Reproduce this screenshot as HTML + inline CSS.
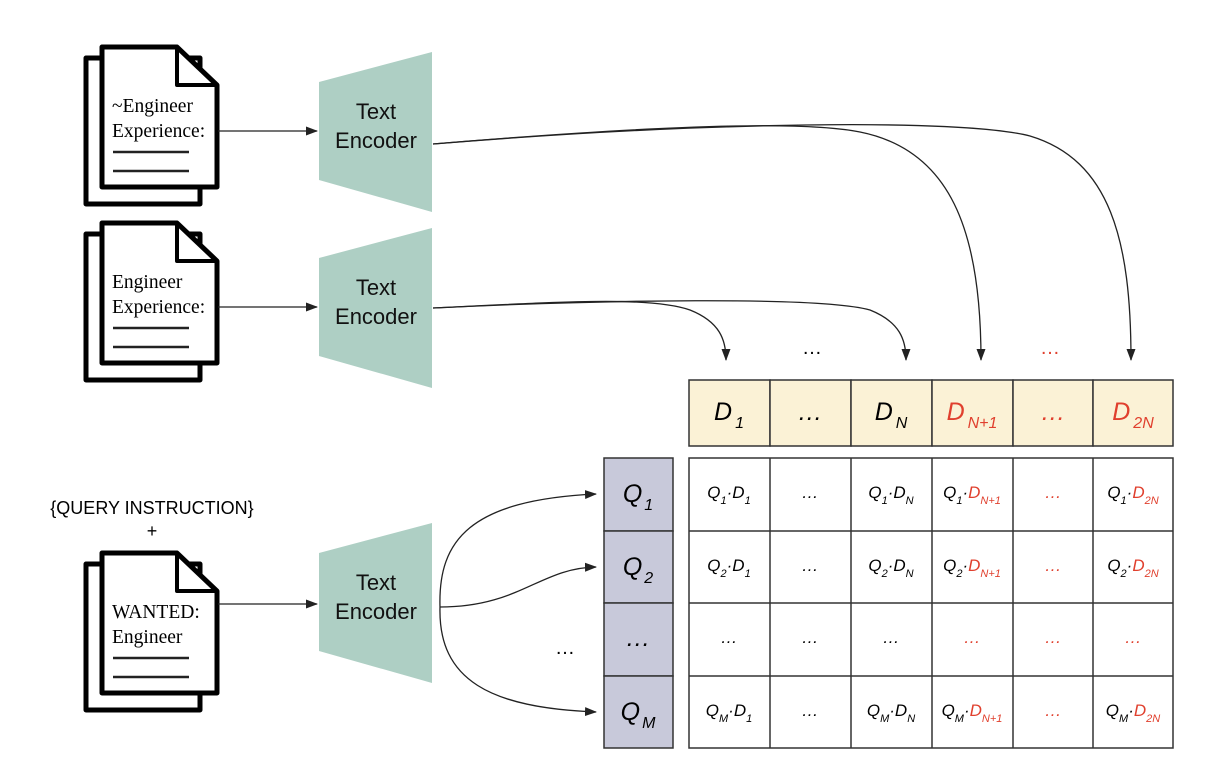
<!DOCTYPE html>
<html><head><meta charset="utf-8"><style>
html,body{margin:0;padding:0;background:#fff;}
svg{display:block;}
.doc{font-family:"Liberation Serif",serif;font-size:19.5px;fill:#000;}
.enc{font-family:"Liberation Sans",sans-serif;font-size:22px;fill:#111;text-anchor:middle;}
.sans{font-family:"Liberation Sans",sans-serif;}
.hd{font-family:"Liberation Sans",sans-serif;font-style:italic;font-size:25px;text-anchor:middle;}
.cl{font-family:"Liberation Sans",sans-serif;font-style:italic;font-size:17px;text-anchor:middle;}
.r{fill:#e0402e;}
</style></head><body>
<svg width="1210" height="780" viewBox="0 0 1210 780" xmlns="http://www.w3.org/2000/svg">
<defs>
<marker id="ah" markerWidth="12" markerHeight="10" refX="11" refY="5" orient="auto" markerUnits="userSpaceOnUse">
<path d="M0,0.5 L12,5 L0,9.5 z" fill="#222"/></marker>
<g id="doc">
<path d="M86,58 H200 V204 H86 Z" fill="#fff" stroke="#000" stroke-width="5" stroke-linejoin="round"/>
<path d="M102,47 H177 L217,85 V187 H102 Z" fill="#fff" stroke="#000" stroke-width="5" stroke-linejoin="round"/>
<path d="M177,47 V85 H217" fill="none" stroke="#000" stroke-width="4" stroke-linejoin="round"/>
<line x1="113" y1="152" x2="189" y2="152" stroke="#222" stroke-width="2.5"/>
<line x1="113" y1="171" x2="189" y2="171" stroke="#222" stroke-width="2.5"/>
</g>
<path id="enc" d="M319,82 L432,52 L432,212 L319,180 Z" fill="#aecfc4"/>
</defs>

<use href="#doc"/>
<use href="#doc" transform="translate(0,176)"/>
<use href="#doc" transform="translate(0,506)"/>
<text class="doc" x="112" y="112">~Engineer</text>
<text class="doc" x="112" y="137">Experience:</text>
<text class="doc" x="112" y="288">Engineer</text>
<text class="doc" x="112" y="313">Experience:</text>
<text class="doc" x="112" y="618">WANTED:</text>
<text class="doc" x="112" y="643">Engineer</text>

<use href="#enc"/>
<use href="#enc" transform="translate(0,176)"/>
<use href="#enc" transform="translate(0,471)"/>
<text class="enc" x="376" y="119">Text</text>
<text class="enc" x="376" y="148">Encoder</text>
<text class="enc" x="376" y="295">Text</text>
<text class="enc" x="376" y="324">Encoder</text>
<text class="enc" x="376" y="590">Text</text>
<text class="enc" x="376" y="619">Encoder</text>

<g stroke="#222" stroke-width="1.3" fill="none" marker-end="url(#ah)">
<line x1="218" y1="131" x2="317" y2="131"/>
<line x1="218" y1="307" x2="317" y2="307"/>
<line x1="218" y1="604" x2="317" y2="604"/>
<path d="M433,144 C650,126 800,120 860,132 C950,150 981,230 981,360"/>
<path d="M433,144 C700,122 960,118 1030,136 C1110,160 1131,240 1131,360"/>
<path d="M433,308 C560,302 650,296 690,310 C720,322 726,340 726,360"/>
<path d="M433,308 C600,300 820,296 870,310 C900,322 906,340 906,360"/>
<path d="M440,607 C438,540 470,500 596,494"/>
<path d="M440,607 C520,607 540,568 596,567"/>
<path d="M440,607 C438,680 490,708 596,712"/>
</g>

<text class="sans" x="812" y="354" font-size="20" text-anchor="middle">…</text>
<text class="sans r" x="1050" y="354" font-size="20" text-anchor="middle">…</text>
<text class="sans" x="565" y="654" font-size="20" text-anchor="middle">…</text>
<text class="sans" x="152" y="514" font-size="18" text-anchor="middle">{QUERY INSTRUCTION}</text>
<text class="sans" x="152" y="537" font-size="18" text-anchor="middle">+</text>

<g stroke="#333" stroke-width="1.5" fill="#fbf2d6">
<rect x="689" y="380" width="81" height="66"/><rect x="770" y="380" width="81" height="66"/>
<rect x="851" y="380" width="81" height="66"/><rect x="932" y="380" width="81" height="66"/>
<rect x="1013" y="380" width="80" height="66"/><rect x="1093" y="380" width="80" height="66"/>
</g>
<text class="hd" x="729" y="420">D<tspan font-size="16" dx="3" dy="8">1</tspan></text>
<text class="hd" x="810" y="420">…</text>
<text class="hd" x="891" y="420">D<tspan font-size="16" dx="3" dy="8">N</tspan></text>
<text class="hd r" x="972" y="420">D<tspan font-size="16" dx="3" dy="8">N+1</tspan></text>
<text class="hd r" x="1053" y="420">…</text>
<text class="hd r" x="1133" y="420">D<tspan font-size="16" dx="3" dy="8">2N</tspan></text>

<g stroke="#333" stroke-width="1.5" fill="#c8c9da">
<rect x="604" y="458" width="69" height="73"/><rect x="604" y="531" width="69" height="72"/>
<rect x="604" y="603" width="69" height="73"/><rect x="604" y="676" width="69" height="72"/>
</g>
<text class="hd" x="638" y="502">Q<tspan font-size="16" dx="2" dy="8">1</tspan></text>
<text class="hd" x="638" y="575">Q<tspan font-size="16" dx="2" dy="8">2</tspan></text>
<text class="hd" x="638" y="646" font-size="20">…</text>
<text class="hd" x="638" y="720">Q<tspan font-size="16" dx="2" dy="8">M</tspan></text>

<g stroke="#333" stroke-width="1.5" fill="#fff">
<rect x="689" y="458" width="484" height="290"/>
<line x1="770" y1="458" x2="770" y2="748"/><line x1="851" y1="458" x2="851" y2="748"/>
<line x1="932" y1="458" x2="932" y2="748"/><line x1="1013" y1="458" x2="1013" y2="748"/>
<line x1="1093" y1="458" x2="1093" y2="748"/>
<line x1="689" y1="531" x2="1173" y2="531"/><line x1="689" y1="603" x2="1173" y2="603"/>
<line x1="689" y1="676" x2="1173" y2="676"/>
</g>

<g>
<text class="cl" x="729" y="498">Q<tspan font-size="11" dy="6">1</tspan><tspan dy="-6">·D</tspan><tspan font-size="11" dy="6">1</tspan></text>
<text class="cl" x="810" y="498">…</text>
<text class="cl" x="891" y="498">Q<tspan font-size="11" dy="6">1</tspan><tspan dy="-6">·D</tspan><tspan font-size="11" dy="6">N</tspan></text>
<text class="cl" x="972" y="498">Q<tspan font-size="11" dy="6">1</tspan><tspan dy="-6">·</tspan><tspan class="r">D</tspan><tspan class="r" font-size="11" dy="6">N+1</tspan></text>
<text class="cl r" x="1053" y="498">…</text>
<text class="cl" x="1133" y="498">Q<tspan font-size="11" dy="6">1</tspan><tspan dy="-6">·</tspan><tspan class="r">D</tspan><tspan class="r" font-size="11" dy="6">2N</tspan></text>

<text class="cl" x="729" y="571">Q<tspan font-size="11" dy="6">2</tspan><tspan dy="-6">·D</tspan><tspan font-size="11" dy="6">1</tspan></text>
<text class="cl" x="810" y="571">…</text>
<text class="cl" x="891" y="571">Q<tspan font-size="11" dy="6">2</tspan><tspan dy="-6">·D</tspan><tspan font-size="11" dy="6">N</tspan></text>
<text class="cl" x="972" y="571">Q<tspan font-size="11" dy="6">2</tspan><tspan dy="-6">·</tspan><tspan class="r">D</tspan><tspan class="r" font-size="11" dy="6">N+1</tspan></text>
<text class="cl r" x="1053" y="571">…</text>
<text class="cl" x="1133" y="571">Q<tspan font-size="11" dy="6">2</tspan><tspan dy="-6">·</tspan><tspan class="r">D</tspan><tspan class="r" font-size="11" dy="6">2N</tspan></text>

<text class="cl" x="729" y="643">…</text>
<text class="cl" x="810" y="643">…</text>
<text class="cl" x="891" y="643">…</text>
<text class="cl r" x="972" y="643">…</text>
<text class="cl r" x="1053" y="643">…</text>
<text class="cl r" x="1133" y="643">…</text>

<text class="cl" x="729" y="716">Q<tspan font-size="11" dy="6">M</tspan><tspan dy="-6">·D</tspan><tspan font-size="11" dy="6">1</tspan></text>
<text class="cl" x="810" y="716">…</text>
<text class="cl" x="891" y="716">Q<tspan font-size="11" dy="6">M</tspan><tspan dy="-6">·D</tspan><tspan font-size="11" dy="6">N</tspan></text>
<text class="cl" x="972" y="716">Q<tspan font-size="11" dy="6">M</tspan><tspan dy="-6">·</tspan><tspan class="r">D</tspan><tspan class="r" font-size="11" dy="6">N+1</tspan></text>
<text class="cl r" x="1053" y="716">…</text>
<text class="cl" x="1133" y="716">Q<tspan font-size="11" dy="6">M</tspan><tspan dy="-6">·</tspan><tspan class="r">D</tspan><tspan class="r" font-size="11" dy="6">2N</tspan></text>
</g>
</svg>
</body></html>
